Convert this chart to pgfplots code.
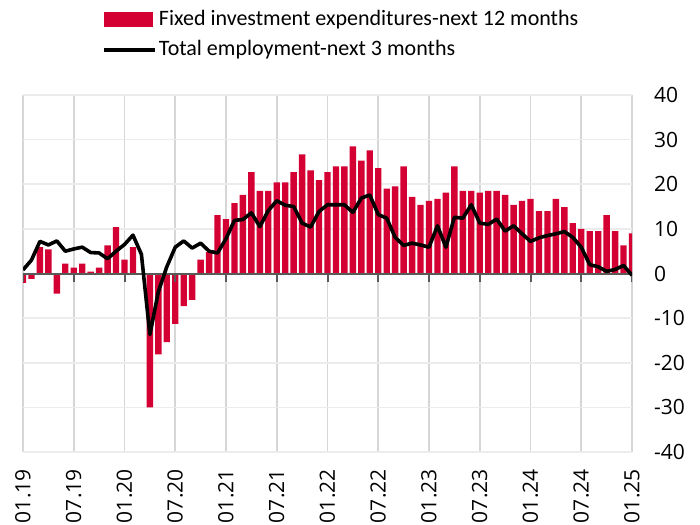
\documentclass[border=0pt]{standalone}
\usepackage{pgfplots}
\pgfplotsset{compat=1.18}
\usepackage{pgfplotstable}
\usepackage{fontspec}
\setmainfont{Carlito}
\newfontfamily\tickfont{Open Sans}
\definecolor{barred}{RGB}{212,0,52}
\definecolor{vgrid}{RGB}{214,214,214}
\definecolor{hgrid}{RGB}{236,236,236}
\definecolor{zeroc}{RGB}{89,89,89}

\pgfplotstableread{
i v
0 -2.1
1 -1.2
2 5.9
3 5.4
4 -4.5
5 2.2
6 1.3
7 2.2
8 0.4
9 1.3
10 6.3
11 10.4
12 3.1
13 5.9
15 -30.0
16 -18.1
17 -15.4
18 -11.3
19 -7.3
20 -5.9
21 3.1
22 4.8
23 13.1
24 12.2
25 15.8
26 17.6
27 22.7
28 18.5
29 18.5
30 20.4
31 20.4
32 22.7
33 26.7
34 23.1
35 20.9
36 22.7
37 24.0
38 24.0
39 28.5
40 25.3
41 27.6
42 23.6
43 19.0
44 19.5
45 24.0
46 17.2
47 15.4
48 16.3
49 16.7
50 18.1
51 24.0
52 18.5
53 18.5
54 18.1
55 18.5
56 18.5
57 17.6
58 15.4
59 16.3
60 16.7
61 14.0
62 14.0
63 16.7
64 14.9
65 11.3
66 10.0
67 9.5
68 9.5
69 13.1
70 9.5
71 6.3
72 9.0
}\investtable

\pgfplotstableread{
i v
0 0.8
1 3.0
2 7.2
3 6.4
4 7.3
5 5.0
6 5.5
7 5.9
8 4.7
9 4.6
10 3.3
11 5.0
12 6.5
13 8.6
14 4.3
15 -13.7
16 -4.1
17 1.5
18 5.9
19 7.3
20 5.7
21 6.8
22 5.0
23 4.6
24 7.8
25 11.9
26 12.1
27 13.6
28 10.5
29 14.1
30 16.3
31 15.3
32 15.0
33 11.3
34 10.4
35 13.9
36 15.4
37 15.4
38 15.4
39 13.7
40 16.9
41 17.6
42 13.2
43 12.4
44 8.1
45 6.3
46 6.8
47 6.4
48 5.9
49 10.7
50 5.9
51 12.6
52 12.4
53 15.4
54 11.3
55 11.0
56 12.2
57 9.5
58 10.7
59 8.9
60 7.2
61 8.0
62 8.5
63 8.9
64 9.4
65 8.1
66 5.9
67 2.0
68 1.5
69 0.5
70 0.9
71 1.8
72 -0.4
}\employtable

\begin{document}
\begin{tikzpicture}
\useasboundingbox (-11.5pt,-36pt) rectangle (338.5pt,226pt);
\begin{axis}[
  at={(0pt,0pt)}, anchor=south west,
  scale only axis, width=304.5pt, height=178.5pt,
  xmin=0, xmax=72, ymin=-40, ymax=40,
  axis line style={draw=none},
  xtick={0,6,...,72},
  xticklabels={01.19,07.19,01.20,07.20,01.21,07.21,01.22,07.22,01.23,07.23,01.24,07.24,01.25},
  ytick={-40,-30,...,40},
  yticklabel pos=right,
  major tick length=0pt,
  xmajorgrids, ymajorgrids,
  x grid style={vgrid, line width=0.8pt},
  y grid style={hgrid, line width=0.8pt},
  /pgf/number format/assume math mode=true,
  yticklabel style={font=\tickfont\fontsize{10.5}{12}\selectfont, anchor=west, inner sep=0pt, xshift=10.8pt, text=black},
  xticklabel style={font=\tickfont\fontsize{10.5}{12}\selectfont, yshift=-8.5pt, rotate=90, anchor=east, inner sep=0pt, text=black},
  legend cell align=left,
  legend style={at={(0.1297,1.2437)}, anchor=north west, draw=none, fill=none, inner sep=0pt,
    row sep=4pt, font=\fontsize{11}{13}\selectfont,
    nodes={inner sep=1pt}},
]
\addplot[ybar, bar width=0.75, fill=barred, draw=none,
  legend image code/.code={\fill[barred] (0pt,-3.6pt) rectangle (24.5pt,3.6pt);}]
  table[x=i, y=v] {\investtable};
\addlegendentry{Fixed investment expenditures-next 12 months}
\draw[zeroc, line width=1pt] (axis cs:0,0) -- (axis cs:72,0);
\pgfplotsinvokeforeach{0,6,...,72}{\draw[zeroc, line width=1pt] (axis cs:#1,0) -- ++(0pt,-4pt);}
\addplot[black, line width=1.8pt, line join=round, mark=none,
  legend image code/.code={\draw[black, line width=1.8pt] (0pt,0pt) -- (25.5pt,0pt);}]
  table[x=i, y=v] {\employtable};
\addlegendentry{Total employment-next 3 months}
\end{axis}
\end{tikzpicture}
\end{document}
